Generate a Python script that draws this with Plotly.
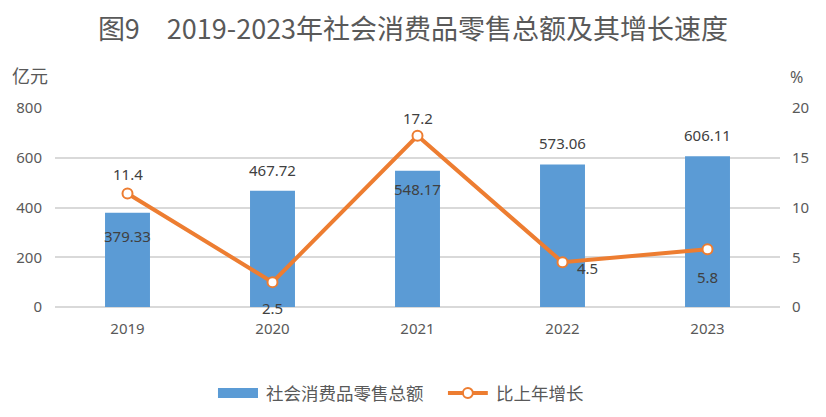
import plotly.graph_objects as go

# data
years = ["2019", "2020", "2021", "2022", "2023"]
retail_sales = [379.33, 467.72, 548.17, 573.06, 606.11]   # 亿元
growth_rate = [11.4, 2.5, 17.2, 4.5, 5.8]                 # %

BAR_COLOUR = "#5B9BD5"
LINE_COLOUR = "#ED7D31"
GRID_COLOUR = "#D9D9D9"
TEXT_COLOUR = "#595959"
LABEL_COLOUR = "#404040"
CJK_FONT = "Noto Sans CJK SC"
NUM_FONT = "Noto Sans, Noto Sans CJK SC"

fig = go.Figure()

fig.add_trace(go.Bar(x=years, y=retail_sales, name="社会消费品零售总额",
                     marker=dict(color=BAR_COLOUR, line=dict(width=0)),
                     width=0.31, yaxis="y"))

fig.add_trace(go.Scatter(x=years, y=growth_rate, name="比上年增长",
                         mode="lines+markers", yaxis="y2",
                         line=dict(color=LINE_COLOUR, width=4),
                         marker=dict(size=10, color="white", line=dict(color=LINE_COLOUR, width=2))))

# data labels: bar labels (pixel offsets from bar tops)
# category axis + numeric-looking names -> annotations use the category index
bar_shift = [-23, 21, -18, 21, 21]
for i, (v, s) in enumerate(zip(retail_sales, bar_shift)):
    fig.add_annotation(x=i, y=v, yref="y", text="{:.2f}".format(v), showarrow=False,
                       yshift=s, font=dict(family=NUM_FONT, size=15, color=LABEL_COLOUR))

# line labels
line_shift = [(0, 20), (0, -26), (0, 18), (25, -6), (0, -28)]
for i, (v, (dx, dy)) in enumerate(zip(growth_rate, line_shift)):
    fig.add_annotation(x=i, y=v, yref="y2", text="{:g}".format(v), showarrow=False,
                       xshift=dx, yshift=dy, font=dict(family=NUM_FONT, size=15, color=LABEL_COLOUR))

# axis unit labels
fig.add_annotation(text="亿元", xref="paper", yref="paper", x=-0.034, y=1.166,
                   xanchor="center", yanchor="middle", showarrow=False,
                   font=dict(family=CJK_FONT, size=18, color=TEXT_COLOUR))
fig.add_annotation(text="%", xref="paper", yref="paper", x=1.023, y=1.156,
                   xanchor="center", yanchor="middle", showarrow=False,
                   font=dict(family=NUM_FONT, size=16, color=TEXT_COLOUR))

# hand-drawn legend (wide bar swatch like the original)
LEG_Y = -0.432
fig.add_shape(type="rect", xref="paper", yref="paper", x0=0.2248, x1=0.28, y0=-0.457, y1=-0.407,
              fillcolor=BAR_COLOUR, line=dict(width=0))
fig.add_annotation(text="社会消费品零售总额", xref="paper", yref="paper", x=0.288, y=LEG_Y,
                   xanchor="left", yanchor="middle", showarrow=False,
                   font=dict(family=CJK_FONT, size=17.5, color=TEXT_COLOUR))
fig.add_shape(type="line", xref="paper", yref="paper", x0=0.542, x1=0.597, y0=LEG_Y, y1=LEG_Y,
              line=dict(color=LINE_COLOUR, width=4))
fig.add_shape(type="circle", xref="paper", yref="paper", xsizemode="pixel", ysizemode="pixel",
              xanchor=0.5695, yanchor=LEG_Y, x0=-5, x1=5, y0=-5, y1=5,
              fillcolor="white", line=dict(color=LINE_COLOUR, width=2))
fig.add_annotation(text="比上年增长", xref="paper", yref="paper", x=0.605, y=LEG_Y,
                   xanchor="left", yanchor="middle", showarrow=False,
                   font=dict(family=CJK_FONT, size=17.5, color=TEXT_COLOUR))

fig.update_layout(
    width=826, height=417,
    margin=dict(t=108, r=46, b=110, l=55, autoexpand=False),
    plot_bgcolor="white", paper_bgcolor="white",
    title=dict(text="图9　2019-2023年社会消费品零售总额及其增长速度",
               x=0.5, xanchor="center", y=0.93, yanchor="middle",
               font=dict(family=CJK_FONT, size=27, color=TEXT_COLOUR)),
    bargap=0.69,
    showlegend=False,
    xaxis=dict(type="category", range=[-0.5, len(years) - 0.5], showgrid=False,
               showline=False, ticks="outside", ticklen=8, tickcolor="rgba(0,0,0,0)",
               tickfont=dict(family=NUM_FONT, size=15, color=TEXT_COLOUR)),
    yaxis=dict(range=[0, 800], dtick=200, showgrid=True, gridcolor=GRID_COLOUR, gridwidth=1.5,
               zeroline=True, zerolinecolor=GRID_COLOUR, zerolinewidth=1.5,
               showline=False, ticks="outside", ticklen=9, tickcolor="rgba(0,0,0,0)",
               tickfont=dict(family=NUM_FONT, size=15, color=TEXT_COLOUR)),
    yaxis2=dict(range=[0, 20], dtick=5, overlaying="y", side="right", showgrid=False,
                zeroline=False, showline=False, ticks="outside", ticklen=8,
                tickcolor="rgba(0,0,0,0)",
                tickfont=dict(family=NUM_FONT, size=15, color=TEXT_COLOUR)),
)

# drop the browser's default 8px body margin so the figure sits at the page corner
fig.write_html("out.html", config={"displayModeBar": False},
               post_script="document.body.style.margin = '0';")
